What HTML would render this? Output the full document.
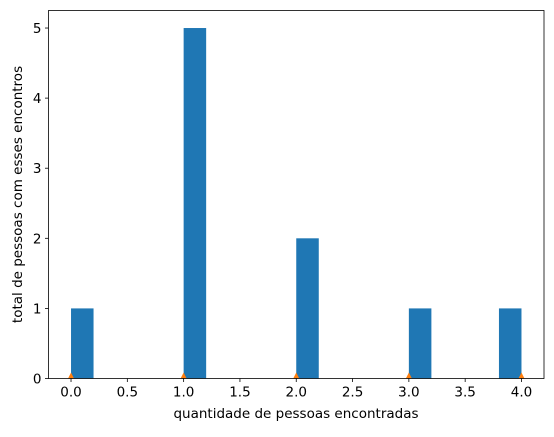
<!DOCTYPE html>
<html><head><meta charset="utf-8"><style>
body{margin:0;background:#fff;}
svg text{font-family:"DejaVu Sans","Liberation Sans",sans-serif;font-size:13.5px;fill:#000;}
</style></head><body>
<svg id="chart" width="554" height="432" xmlns="http://www.w3.org/2000/svg">
<defs><clipPath id="clip"><rect x="48.5" y="10.5" width="495.5" height="368"/></clipPath></defs>
<g id="bars" clip-path="url(#clip)"></g>
<g id="markers" clip-path="url(#clip)"></g>
<rect x="48.5" y="10.5" width="495.5" height="368" fill="none" stroke="#000" stroke-width="0.8"/>
<g id="xticks"></g>
<g id="yticks"></g>
<text x="296" y="418" text-anchor="middle">quantidade de pessoas encontradas</text>
<text transform="translate(22,194.5) rotate(-90)" text-anchor="middle">total de pessoas com esses encontros</text>
</svg>
<script>
const binStarts=[0.0,1.0,2.0,3.0,3.8];
const counts=[1,5,2,1,1];
const binWidth=0.2;
const markerX=[0,1,2,3,4];
const markerY=[0,0,0,0,0];
const xTickVals=[0,0.5,1,1.5,2,2.5,3,3.5,4];
const xTickLabels=["0.0","0.5","1.0","1.5","2.0","2.5","3.0","3.5","4.0"];
const yTickVals=[0,1,2,3,4,5];
const yTickLabels=["0","1","2","3","4","5"];
const X0=48.5,X1=544,Y0=378.5,Y1=10.5,xmin=-0.2,xmax=4.2,ymin=0,ymax=5.25;
const sx=v=>X0+(v-xmin)/(xmax-xmin)*(X1-X0);
const sy=v=>Y0-(v-ymin)/(ymax-ymin)*(Y0-Y1);
const NS="http://www.w3.org/2000/svg";
function mk(t,a,p){const e=document.createElementNS(NS,t);for(const k in a)e.setAttribute(k,a[k]);p.appendChild(e);return e;}
const bars=document.getElementById('bars');
binStarts.forEach((b,i)=>{
 const r=mk('rect',{x:sx(b),y:sy(counts[i]),width:sx(b+binWidth)-sx(b),height:sy(0)-sy(counts[i]),fill:'#1f77b4'},bars);
 
 
});
const mg=document.getElementById('markers');
markerX.forEach((v,i)=>{
 const cx=sx(v),cy=sy(markerY[i]);
 const p=mk('polygon',{points:`${cx},${cy-6} ${cx-6},${cy+6} ${cx+6},${cy+6}`,fill:'#ff7f0e'},mg);
 
 
});
const xg=document.getElementById('xticks');
xTickVals.forEach((v,i)=>{
 const x=sx(v);
 mk('line',{x1:x,x2:x,y1:Y0,y2:Y0+3.5,stroke:'#000','stroke-width':0.8},xg);
 const t=mk('text',{x:x,y:Y0+18,'text-anchor':'middle'},xg);t.textContent=xTickLabels[i];
 
 
});
const yg=document.getElementById('yticks');
yTickVals.forEach((v,i)=>{
 const y=sy(v);
 mk('line',{x1:X0-3.5,x2:X0,y1:y,y2:y,stroke:'#000','stroke-width':0.8},yg);
 const t=mk('text',{x:X0-7,y:y+5,'text-anchor':'end'},yg);t.textContent=yTickLabels[i];
 
 
});
</script>
</body></html>
